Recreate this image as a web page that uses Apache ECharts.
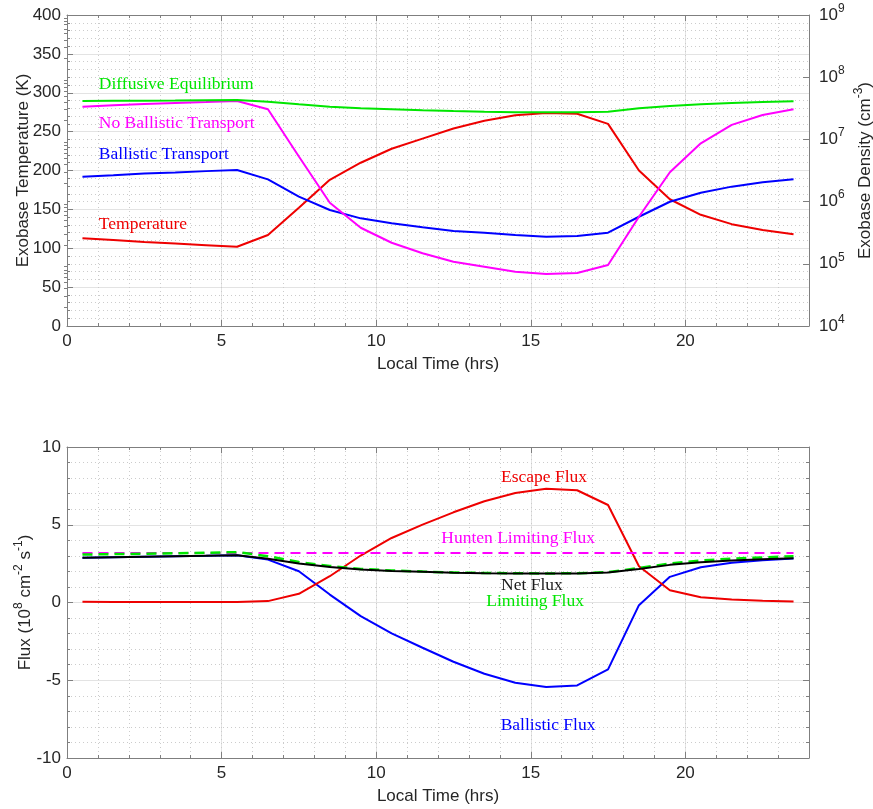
<!DOCTYPE html>
<html><head><meta charset="utf-8">
<script src="https://cdn.jsdelivr.net/npm/echarts@6/dist/echarts.min.js"></script>
<style>html,body{margin:0;padding:0;background:#fff}#c{width:873px;height:809px}</style>
</head><body><div id="c"></div>
<script>
const hours = [0.5,1.5,2.5,3.5,4.5,5.5,6.5,7.5,8.5,9.5,10.5,11.5,12.5,13.5,14.5,15.5,16.5,17.5,18.5,19.5,20.5,21.5,22.5,23.5];
const temperature = [113,110.5,108,106,104,102,117,152,188,210,228,241,254,264,271,274,273,260,200,163,143,131,123.5,118];
const densityDiffusive = [4.14e7,4.17e7,4.19e7,4.22e7,4.27e7,4.30e7,4.04e7,3.66e7,3.36e7,3.16e7,3.05e7,2.94e7,2.86e7,2.79e7,2.73e7,2.73e7,2.73e7,2.79e7,3.16e7,3.44e7,3.66e7,3.85e7,3.99e7,4.09e7];
const densityNoBallistic = [3.36e7,3.55e7,3.72e7,3.85e7,3.98e7,4.14e7,3.05e7,5.3e6,9.59e5,3.80e5,2.18e5,1.48e5,1.08e5,8.97e4,7.46e4,6.85e4,7.11e4,9.57e4,5.71e5,2.96e6,8.65e6,1.71e7,2.47e7,3.05e7];
const densityBallistic = [2.51e6,2.66e6,2.82e6,2.95e6,3.09e6,3.22e6,2.28e6,1.20e6,7.33e5,5.38e5,4.48e5,3.86e5,3.37e5,3.16e5,2.90e5,2.73e5,2.80e5,3.16e5,5.71e5,9.95e5,1.39e6,1.74e6,2.04e6,2.28e6];
const escapeFlux = [0.05,0.04,0.04,0.03,0.03,0.04,0.09,0.56,1.69,3.02,4.15,5.01,5.80,6.51,7.04,7.32,7.22,6.27,2.33,0.79,0.34,0.19,0.11,0.06];
const ballisticFlux = [2.87,2.91,2.94,2.97,3.00,3.04,2.76,2.01,0.51,-0.88,-1.99,-2.91,-3.81,-4.58,-5.16,-5.44,-5.33,-4.30,-0.17,1.65,2.27,2.55,2.72,2.83];
const netFlux = [2.87,2.91,2.95,2.98,3.01,3.04,2.81,2.51,2.29,2.12,2.03,1.97,1.91,1.88,1.87,1.86,1.87,1.93,2.16,2.42,2.59,2.70,2.78,2.85];
const limitingFlux = [3.08,3.11,3.14,3.17,3.20,3.24,2.98,2.60,2.35,2.16,2.06,1.99,1.93,1.90,1.88,1.87,1.88,1.95,2.22,2.50,2.70,2.82,2.90,2.98];
const huntenFlux = [3.19,3.19,3.19,3.19,3.19,3.19,3.19,3.19,3.19,3.19,3.19,3.19,3.19,3.19,3.19,3.19,3.19,3.19,3.19,3.19,3.19,3.19,3.19,3.19];
const densityDecades = [4,5,6,7,8];
const minorMantissas = [2,3,4,5,6,7,8,9];

// annotation labels: [text, color, grid, x, y, align]
const labels = [
  ['Diffusive Equilibrium', '#00e600', 0, 1.03, 311, 'left'],
  ['No Ballistic Transport', '#ff00ff', 0, 1.03, 261, 'left'],
  ['Ballistic Transport', '#0000ff', 0, 1.03, 221, 'left'],
  ['Temperature', '#ee0000', 0, 1.03, 131, 'left'],
  ['Escape Flux', '#ee0000', 1, 15.43, 8.05, 'center'],
  ['Hunten Limiting Flux', '#ff00ff', 1, 14.59, 4.11, 'center'],
  ['Net Flux', '#1a1a1a', 1, 15.04, 1.09, 'center'],
  ['Limiting Flux', '#00e600', 1, 15.14, 0.08, 'center'],
  ['Ballistic Flux', '#0000ff', 1, 15.56, -7.9, 'center']
];

const FONT = '"Liberation Sans", Arial, Helvetica, sans-serif';
const FS = 17;
const AX = '#7f7f7f', TXT = '#262626', MAJ = '#e3e3e3', MIN = '#cccccc';
const DOT = [1, 3];
const pair = (ys) => hours.map((h, i) => [h, ys[i]]);
const logMinorTicks = [];
densityDecades.forEach(d => minorMantissas.forEach(m => logMinorTicks.push(d + Math.log10(m))));

function xAxes(gi) {
  return [
    { gridIndex: gi, type: 'value', position: 'bottom', min: 0, max: 24, interval: 5,
      axisLine: { onZero: false, lineStyle: { color: AX } },
      axisTick: { inside: true, length: 6, lineStyle: { color: AX } },
      axisLabel: { color: TXT, fontSize: FS, fontFamily: FONT, margin: 7, showMaxLabel: false },
      splitLine: { show: true, lineStyle: { color: MAJ } },
      name: 'Local Time (hrs)', nameLocation: 'middle', nameGap: 30, nameMoveOverlap: false,
      nameTextStyle: { color: TXT, fontSize: FS, fontFamily: FONT } },
    { gridIndex: gi, type: 'value', position: 'bottom', min: 0, max: 24, interval: 1,
      axisLine: { show: false, onZero: false }, axisLabel: { show: false },
      axisTick: { inside: true, length: 3, lineStyle: { color: AX } },
      splitLine: { show: true, lineStyle: { color: MIN, type: DOT } } },
    { gridIndex: gi, type: 'value', position: 'top', min: 0, max: 24, interval: 5,
      axisLine: { onZero: false, lineStyle: { color: AX } }, axisLabel: { show: false },
      axisTick: { inside: true, length: 6, lineStyle: { color: AX } }, splitLine: { show: false } },
    { gridIndex: gi, type: 'value', position: 'top', min: 0, max: 24, interval: 1,
      axisLine: { show: false, onZero: false }, axisLabel: { show: false },
      axisTick: { inside: true, length: 3, lineStyle: { color: AX } }, splitLine: { show: false } }
  ];
}

const supRich = {
  b: { fontSize: FS, fontFamily: FONT, color: TXT },
  s: { fontSize: 12, fontFamily: FONT, color: TXT, padding: [0, 0, 13, 0] }
};

const option = {
  animation: false,
  backgroundColor: '#fff',
  grid: [
    { left: 67, top: 15, width: 742, height: 311, containLabel: false, outerBoundsMode: 'none' },
    { left: 67, top: 447, width: 742, height: 311, containLabel: false, outerBoundsMode: 'none' }
  ],
  xAxis: [...xAxes(0), ...xAxes(1)],
  yAxis: [
    { gridIndex: 0, type: 'value', position: 'left', min: 0, max: 400, interval: 50,
      axisLine: { show: true, onZero: false, lineStyle: { color: AX } },
      axisTick: { show: true, inside: true, length: 6, lineStyle: { color: AX } },
      minorTick: { show: true, splitNumber: 5, length: 3, lineStyle: { color: AX } },
      axisLabel: { color: TXT, fontSize: FS, fontFamily: FONT, margin: 6 },
      splitLine: { show: true, lineStyle: { color: MAJ } },
      minorSplitLine: { show: true, lineStyle: { color: MIN, type: DOT } },
      name: 'Exobase Temperature (K)', nameLocation: 'middle', nameRotate: 90, nameGap: 35, nameMoveOverlap: false,
      nameTextStyle: { color: TXT, fontSize: FS, fontFamily: FONT } },
    { gridIndex: 0, type: 'log', logBase: 10, position: 'right', min: 1e4, max: 1e9,
      axisLine: { show: true, onZero: false, lineStyle: { color: AX } },
      axisTick: { show: true, inside: true, length: 6, lineStyle: { color: AX } },
      axisLabel: { margin: 10, formatter: (v) => '{b|10}{s|' + Math.round(Math.log10(v)) + '}', rich: supRich },
      splitLine: { show: false },
      name: 'Exobase Density (cm{s|-3})', nameLocation: 'middle', nameRotate: 90, nameGap: 44, nameMoveOverlap: false,
      nameTextStyle: { color: TXT, fontSize: FS, fontFamily: FONT, rich: supRich } },
    { gridIndex: 1, type: 'value', position: 'left', min: -10, max: 10, interval: 5,
      axisLine: { show: true, onZero: false, lineStyle: { color: AX } },
      axisTick: { show: true, inside: true, length: 6, lineStyle: { color: AX } },
      minorTick: { show: true, splitNumber: 5, length: 3, lineStyle: { color: AX } },
      axisLabel: { color: TXT, fontSize: FS, fontFamily: FONT, margin: 6 },
      splitLine: { show: true, lineStyle: { color: MAJ } },
      minorSplitLine: { show: true, lineStyle: { color: MIN, type: DOT } },
      name: 'Flux (10{s|8} cm{s|-2} s{s|-1})', nameLocation: 'middle', nameRotate: 90, nameGap: 29, nameMoveOverlap: false,
      nameTextStyle: { color: TXT, fontSize: FS, fontFamily: FONT, rich: supRich } },
    { gridIndex: 1, type: 'value', position: 'right', min: -10, max: 10, interval: 5,
      axisLine: { show: true, onZero: false, lineStyle: { color: AX } },
      axisTick: { show: true, inside: true, length: 6, lineStyle: { color: AX } },
      minorTick: { show: true, splitNumber: 5, length: 3, lineStyle: { color: AX } },
      axisLabel: { show: false }, splitLine: { show: false } },
    { gridIndex: 0, type: 'value', position: 'right', min: 4, max: 9,
      axisLine: { show: false }, axisLabel: { show: false }, splitLine: { show: false },
      axisTick: { show: true, inside: true, length: 3, customValues: logMinorTicks, lineStyle: { color: AX } } }
  ],
  series: [
    { name: 'Temperature', type: 'line', xAxisIndex: 0, yAxisIndex: 0, data: pair(temperature),
      showSymbol: false, lineStyle: { color: '#ee0000', width: 2 }, z: 3 },
    { name: 'Ballistic Transport', type: 'line', xAxisIndex: 0, yAxisIndex: 1, data: pair(densityBallistic),
      showSymbol: false, lineStyle: { color: '#0000ff', width: 2 }, z: 3 },
    { name: 'No Ballistic Transport', type: 'line', xAxisIndex: 0, yAxisIndex: 1, data: pair(densityNoBallistic),
      showSymbol: false, lineStyle: { color: '#ff00ff', width: 2 }, z: 3 },
    { name: 'Diffusive Equilibrium', type: 'line', xAxisIndex: 0, yAxisIndex: 1, data: pair(densityDiffusive),
      showSymbol: false, lineStyle: { color: '#00e600', width: 2 }, z: 3 },
    { name: 'Ballistic Flux', type: 'line', xAxisIndex: 4, yAxisIndex: 2, data: pair(ballisticFlux),
      showSymbol: false, lineStyle: { color: '#0000ff', width: 2 }, z: 3 },
    { name: 'Escape Flux', type: 'line', xAxisIndex: 4, yAxisIndex: 2, data: pair(escapeFlux),
      showSymbol: false, lineStyle: { color: '#ee0000', width: 2 }, z: 3 },
    { name: 'Hunten Limiting Flux', type: 'line', xAxisIndex: 4, yAxisIndex: 2, data: pair(huntenFlux),
      showSymbol: false, lineStyle: { color: '#ff00ff', width: 2, type: [10, 6] }, z: 3 },
    { name: 'Limiting Flux', type: 'line', xAxisIndex: 4, yAxisIndex: 2, data: pair(limitingFlux),
      showSymbol: false, lineStyle: { color: '#00e600', width: 2.5, type: [10, 6] }, z: 3 },
    { name: 'Net Flux', type: 'line', xAxisIndex: 4, yAxisIndex: 2, data: pair(netFlux),
      showSymbol: false, lineStyle: { color: '#000000', width: 2 }, z: 4 }
  ]
};

const chart = echarts.init(document.getElementById('c'), null, { renderer: 'canvas' });
chart.setOption(option);

const graphics = labels.map(([text, color, g, x, y, align]) => {
  const p = chart.convertToPixel({ xAxisIndex: g * 4, yAxisIndex: g * 2 }, [x, y]);
  return { type: 'text', x: p[0], y: p[1], z: 10,
    style: { text, fill: color, font: '17.5px "Liberation Serif", "DejaVu Serif", serif',
      align, verticalAlign: 'middle', textAlign: align, textVerticalAlign: 'middle' } };
});
chart.setOption({ graphic: graphics });
</script>
</body></html>
